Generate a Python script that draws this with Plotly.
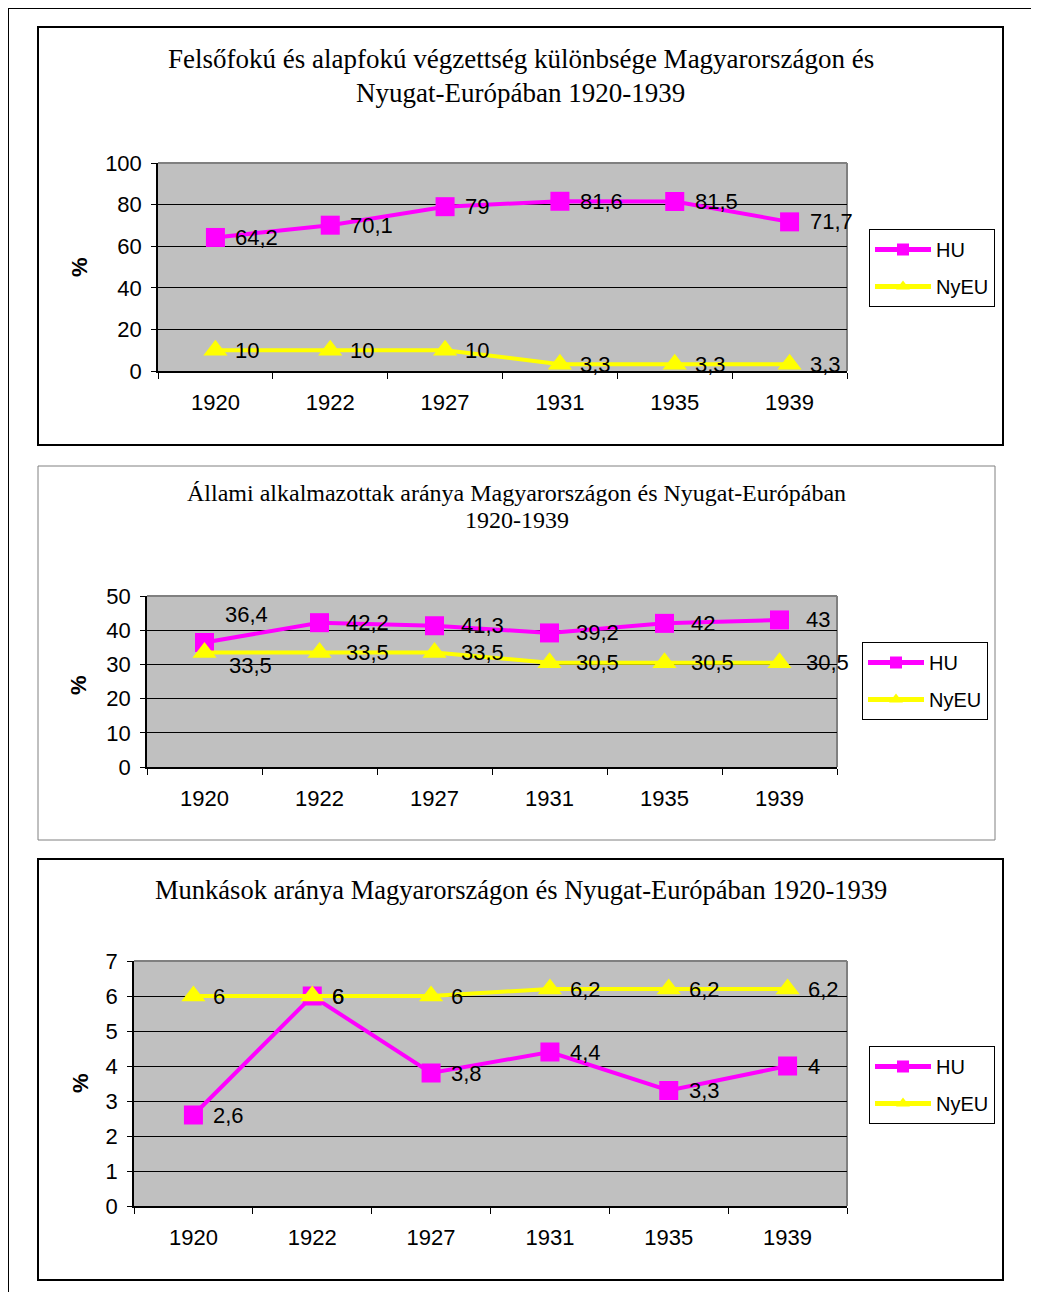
import plotly.graph_objects as go

# The page places the figure 8px from the top-left corner; size the figure so it
# fits the 1039x1292 window exactly and map reference pixels accordingly.
OFF = 8
W, H = 1039 - OFF, 1292 - OFF

years = ["1920", "1922", "1927", "1931", "1935", "1939"]

# Chart 1
c1_title = ["Felsőfokú és alapfokú végzettség különbsége Magyarországon és",
            "Nyugat-Európában 1920-1939"]
c1_hu = [64.2, 70.1, 79, 81.6, 81.5, 71.7]
c1_nyeu = [10, 10, 10, 3.3, 3.3, 3.3]

# Chart 2
c2_title = ["Állami alkalmazottak aránya Magyarországon és Nyugat-Európában",
            "1920-1939"]
c2_hu = [36.4, 42.2, 41.3, 39.2, 42, 43]
c2_nyeu = [33.5, 33.5, 33.5, 30.5, 30.5, 30.5]

# Chart 3
c3_title = ["Munkások aránya Magyarországon és Nyugat-Európában 1920-1939"]
c3_hu = [2.6, 6, 3.8, 4.4, 3.3, 4]
c3_nyeu = [6, 6, 6, 6.2, 6.2, 6.2]

ymax = [100, 50, 7]
ydtick = [20, 10, 1]

SANS = "Arial, Liberation Sans, sans-serif"
SERIF = "Times New Roman, Liberation Serif, serif"
MAG = "#FF00FF"
YEL = "#FFFF00"
FS = 22


def px(x):
    return (x - OFF) / W


def py(y):
    return 1 - (y - OFF) / H


def fmt(v):
    return ("%g" % v).replace(".", ",")


charts = [
    dict(title=c1_title, hu=c1_hu, ny=c1_nyeu,
         box=(38, 27, 1003, 445), boxcol="black", boxw=2,
         plot=(158, 163, 847, 371), title_y=[59, 93], legend=(869, 229),
         pct=(80, 267), xshift=18, size_ttl=27, special={}),
    dict(title=c2_title, hu=c2_hu, ny=c2_nyeu,
         box=(38, 466, 995, 840), boxcol="#808080", boxw=1,
         plot=(147, 596, 837, 767), title_y=[493, 520], legend=(862, 642),
         pct=(78, 685), xshift=24, size_ttl=24,
         special={("hu", 0): (18, 28), ("ny", 0): (22, -13)}),
    dict(title=c3_title, hu=c3_hu, ny=c3_nyeu,
         box=(38, 859, 1003, 1280), boxcol="black", boxw=2,
         plot=(134, 961, 847, 1206), title_y=[890], legend=(869, 1046),
         pct=(80, 1083), xshift=18, size_ttl=26.5, special={}),
]

fig = go.Figure()
shapes = []
annotations = []
xpos = list(range(len(years)))

# page frame (top and left rules)
shapes.append(dict(type="line", xref="paper", yref="paper", x0=0, x1=1.0,
                   y0=1, y1=1, line=dict(color="black", width=2)))
shapes.append(dict(type="line", xref="paper", yref="paper", x0=0, x1=0,
                   y0=1, y1=0, line=dict(color="black", width=2)))

for k, c in enumerate(charts):
    n = "" if k == 0 else str(k + 1)
    xa, ya = "x" + n, "y" + n
    leg = "legend" + n
    x0, y0, x1, y1 = c["plot"]
    fig.add_trace(go.Scatter(
        x=xpos, y=c["hu"], name="HU", xaxis=xa, yaxis=ya, mode="lines+markers",
        line=dict(color=MAG, width=4), marker=dict(symbol="square", size=19, color=MAG),
        legend=leg, legendgroup="hu" + n, cliponaxis=False))
    fig.add_trace(go.Scatter(
        x=xpos, y=c["ny"], name="NyEU", xaxis=xa, yaxis=ya, mode="lines+markers",
        line=dict(color=YEL, width=4), marker=dict(symbol="triangle-up", size=21, color=YEL),
        legend=leg, legendgroup="ny" + n, cliponaxis=False))

    fig.update_layout(**{
        "xaxis" + n: dict(domain=[px(x0), px(x1)], anchor=ya, range=[-0.5, len(years) - 0.5],
                          tickmode="array", tickvals=xpos, ticktext=years, ticks="",
                          showgrid=False, zeroline=False, showline=True, linecolor="black",
                          linewidth=1.5, ticklabelstandoff=11, automargin=False,
                          tickfont=dict(family=SANS, size=FS, color="black"),
                          minor=dict(tickmode="array", tickvals=[i - 0.5 for i in range(len(years) + 1)],
                                     ticks="outside", ticklen=6, tickcolor="black", tickwidth=1,
                                     showgrid=False)),
        "yaxis" + n: dict(domain=[py(y1), py(y0)], anchor=xa, range=[0, ymax[k]], dtick=ydtick[k],
                          tick0=0, showgrid=True, gridcolor="#000000", gridwidth=1,
                          zeroline=False, showline=True, linecolor="black", linewidth=1.5,
                          ticks="outside", ticklen=5, tickcolor="black", ticklabelstandoff=5,
                          automargin=False,
                          tickfont=dict(family=SANS, size=FS, color="black")),
        leg: dict(x=px(c["legend"][0]), y=py(c["legend"][1]), xanchor="left", yanchor="top",
                  bgcolor="white", bordercolor="black", borderwidth=1,
                  font=dict(family=SANS, size=20, color="black"), tracegroupgap=8,
                  itemsizing="constant", itemwidth=56),
    })

    # chart box
    bx0, by0, bx1, by1 = c["box"]
    shapes.append(dict(type="rect", xref="paper", yref="paper", x0=px(bx0), x1=px(bx1),
                       y0=py(by1), y1=py(by0), line=dict(color=c["boxcol"], width=c["boxw"]),
                       layer="below"))
    # plot area gray top/right border
    shapes.append(dict(type="line", xref=xa + " domain", yref=ya + " domain", x0=0, x1=1, y0=1, y1=1,
                       line=dict(color="#808080", width=2), layer="above"))
    shapes.append(dict(type="line", xref=xa + " domain", yref=ya + " domain", x0=1, x1=1, y0=0, y1=1,
                       line=dict(color="#808080", width=2), layer="below"))
    # title lines
    for line_text, ty in zip(c["title"], c["title_y"]):
        annotations.append(dict(xref="paper", yref="paper", x=px((bx0 + bx1) / 2), y=py(ty),
                                xanchor="center", yanchor="middle", showarrow=False, text=line_text,
                                font=dict(family=SERIF, size=c["size_ttl"], color="black")))
    # % axis title
    annotations.append(dict(xref="paper", yref="paper", x=px(c["pct"][0]), y=py(c["pct"][1]),
                            xanchor="center", yanchor="middle", showarrow=False, text="<b>%</b>",
                            textangle=-90, font=dict(family=SANS, size=FS, color="black")))
    # data labels
    for key, series in (("hu", c["hu"]), ("ny", c["ny"])):
        for i, v in enumerate(series):
            xs, ys = c["xshift"], 0
            if (key, i) in c["special"]:
                xs, ys = c["special"][(key, i)]
            annotations.append(dict(xref=xa, yref=ya, x=i, y=v, text=fmt(v), showarrow=False,
                                    xanchor="left", yanchor="middle", xshift=xs, yshift=ys,
                                    font=dict(family=SANS, size=FS, color="black")))

fig.update_layout(width=W, height=H, margin=dict(l=0, r=0, t=0, b=0, autoexpand=False),
                  paper_bgcolor="white", plot_bgcolor="#C0C0C0",
                  shapes=shapes, annotations=annotations, showlegend=True)

fig.write_html("out.html")
